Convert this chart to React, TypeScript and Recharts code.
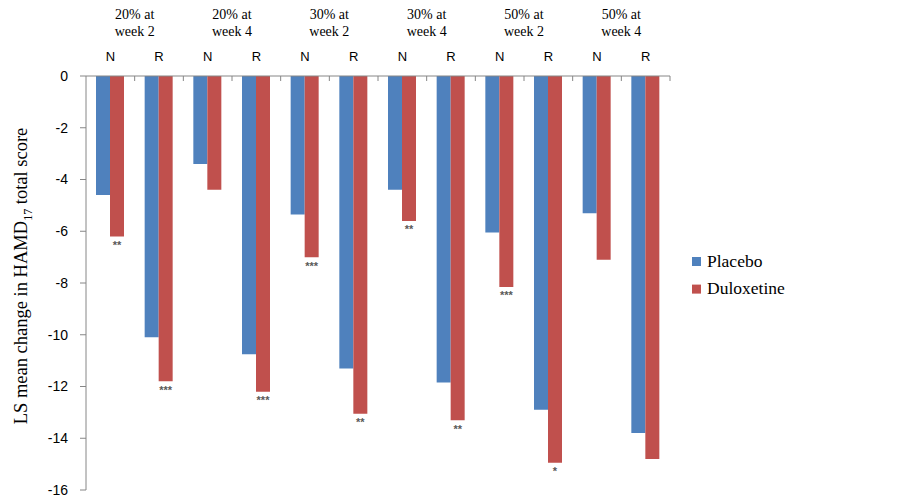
import React from 'react';
import { BarChart, Bar, XAxis, YAxis, Legend, LabelList } from 'recharts';

const categories = ['N', 'R', 'N', 'R', 'N', 'R', 'N', 'R', 'N', 'R', 'N', 'R'];
const groupLabels = [
  ['20% at', 'week 2'],
  ['20% at', 'week 4'],
  ['30% at', 'week 2'],
  ['30% at', 'week 4'],
  ['50% at', 'week 2'],
  ['50% at', 'week 4'],
];
const seriesNames = ['Placebo', 'Duloxetine'];
const placebo = [-4.6, -10.1, -3.4, -10.75, -5.35, -11.3, -4.4, -11.85, -6.05, -12.9, -5.3, -13.8];
const duloxetine = [-6.2, -11.8, -4.4, -12.2, -7.0, -13.05, -5.6, -13.3, -8.15, -14.95, -7.1, -14.8];
const stars = ['**', '***', '', '***', '***', '**', '**', '**', '***', '*', '', ''];
const yTicks = [-16, -14, -12, -10, -8, -6, -4, -2, 0];

const data = categories.map((c, i) => ({
  key: `${c}${i}`,
  cat: c,
  placebo: placebo[i],
  duloxetine: duloxetine[i],
}));

const W = 903;
const H = 504;
const LEGEND_W = 180;
const MARGIN = { top: 46, right: 233 - LEGEND_W, bottom: 14, left: 26 };
const Y_AXIS_W = 60;
const PLOT_W = W - MARGIN.left - Y_AXIS_W - 233;
const BAND = PLOT_W / categories.length;

const AXIS_COLOR = '#868686';
const SANS = '"Liberation Sans", Arial, sans-serif';
const SERIF = '"Liberation Serif", "Times New Roman", serif';

const XTick = (props: any) => {
  const { x, y, index } = props;
  const label = categories[index];
  const g = index % 2 === 0 ? groupLabels[index / 2] : null;
  return (
    <g>
      <text x={x} y={y - 15} textAnchor="middle" fontFamily={SANS} fontSize={13} fill="#000">
        {label}
      </text>
      <line x1={x + BAND / 2} x2={x + BAND / 2} y1={y} y2={y + 5} stroke={AXIS_COLOR} strokeWidth={1} />
      {g && (
        <text textAnchor="middle" fontFamily={SERIF} fontSize={14} fill="#000">
          <tspan x={x + BAND / 2} y={y - 57}>{g[0]}</tspan>
          <tspan x={x + BAND / 2} y={y - 40}>{g[1]}</tspan>
        </text>
      )}
    </g>
  );
};

const StarLabel = (props: any) => {
  const { x, y, width, height, index } = props;
  const s = stars[index];
  if (!s) return null;
  const bottom = Math.max(y, y + height);
  return (
    <text x={x + width / 2} y={bottom + 12.5} textAnchor="middle" fontFamily={SANS} fontSize={11} fontWeight="bold" fill="#595959">
      {s}
    </text>
  );
};

const YLabel = () => (
  <text
    transform="translate(27, 276) rotate(-90)"
    textAnchor="middle"
    fontFamily={SERIF}
    fontSize={18.5}
    fill="#000"
  >
    LS mean change in HAMD
    <tspan fontSize={12} dy={5}>17</tspan>
    <tspan dy={-5}> total score</tspan>
  </text>
);

const LegendContent = (props: any) => {
  const items = [...(props.payload || [])].sort(
    (a: any, b: any) => seriesNames.indexOf(a.value) - seriesNames.indexOf(b.value)
  );
  return (
    <svg width={LEGEND_W} height={70} style={{ display: 'block' }}>
      {items.map((it: any, i: number) => (
        <g key={i}>
          <rect x={7} y={12 + i * 27.6} width={9} height={9} fill={it.color} />
          <text x={22} y={21.7 + i * 27.6} fontFamily={SERIF} fontSize={17.5} fill="#000">
            {it.value}
          </text>
        </g>
      ))}
    </svg>
  );
};

export default function App() {
  return (
    <div style={{ position: 'absolute', left: 0, top: 0, width: W, height: H, background: '#fff' }}>
      <BarChart width={W} height={H} data={data} margin={MARGIN} barGap={0} barSize={14}>
        <XAxis
          dataKey="key"
          orientation="top"
          height={30}
          interval={0}
          tickLine={false}
          tickSize={0}
          tickMargin={0}
          axisLine={{ stroke: AXIS_COLOR }}
          tick={<XTick />}
        />
        <YAxis
          width={Y_AXIS_W}
          domain={[-16, 0]}
          ticks={yTicks}
          interval={0}
          tickSize={6}
          tickMargin={12}
          axisLine={{ stroke: AXIS_COLOR }}
          tickLine={{ stroke: AXIS_COLOR }}
          tick={{ fontFamily: SANS, fontSize: 14, fill: '#000' }}
          label={<YLabel />}
        />
        <Legend
          layout="vertical"
          align="right"
          verticalAlign="middle"
          content={<LegendContent />}
          wrapperStyle={{ left: 685, top: 245, width: LEGEND_W, height: 70 }}
        />
        <Bar dataKey="placebo" name="Placebo" fill="#4F81BD" isAnimationActive={false} />
        <Bar dataKey="duloxetine" name="Duloxetine" fill="#C0504D" isAnimationActive={false}>
          <LabelList dataKey="duloxetine" content={<StarLabel />} />
        </Bar>
      </BarChart>
    </div>
  );
}
